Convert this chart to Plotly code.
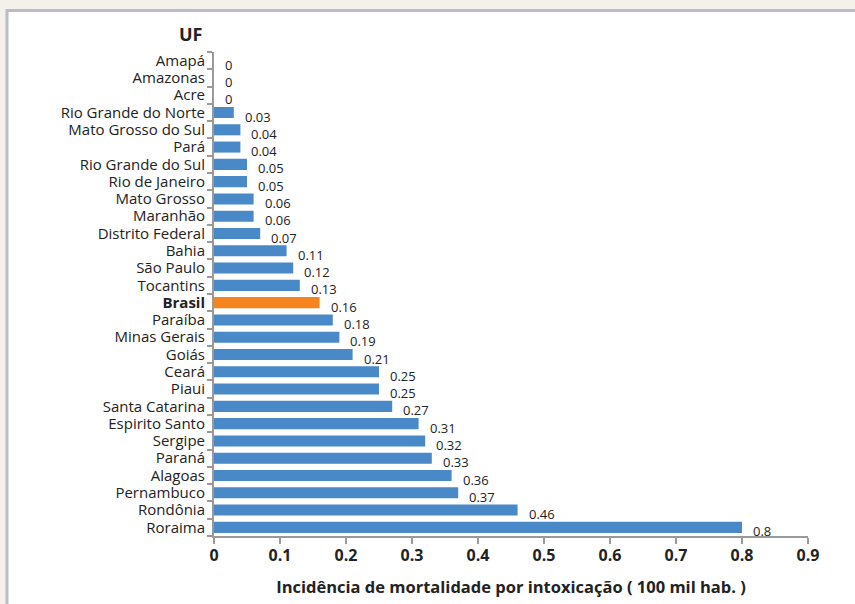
import plotly.graph_objects as go

# Incidence of mortality by poisoning, per state (UF) plus national value
states = [
    "Amapá", "Amazonas", "Acre", "Rio Grande do Norte", "Mato Grosso do Sul",
    "Pará", "Rio Grande do Sul", "Rio de Janeiro", "Mato Grosso", "Maranhão",
    "Distrito Federal", "Bahia", "São Paulo", "Tocantins", "Brasil", "Paraíba",
    "Minas Gerais", "Goiás", "Ceará", "Piaui", "Santa Catarina", "Espirito Santo",
    "Sergipe", "Paraná", "Alagoas", "Pernambuco", "Rondônia", "Roraima",
]
incidence = [
    0, 0, 0, 0.03, 0.04,
    0.04, 0.05, 0.05, 0.06, 0.06,
    0.07, 0.11, 0.12, 0.13, 0.16, 0.18,
    0.19, 0.21, 0.25, 0.25, 0.27, 0.31,
    0.32, 0.33, 0.36, 0.37, 0.46, 0.8,
]
x_ticks = [0, 0.1, 0.2, 0.3, 0.4, 0.5, 0.6, 0.7, 0.8, 0.9]
x_tick_text = ["0", "0.1", "0.2", "0.3", "0.4", "0.5", "0.6", "0.7", "0.8", "0.9"]

BLUE = "#4a89c7"
ORANGE = "#f5841f"
AXIS = "#9a9a9a"
FONT = "Open Sans"

colors = [ORANGE if s == "Brasil" else BLUE for s in states]
tick_labels = ["<b>Brasil</b>" if s == "Brasil" else s for s in states]

fig = go.Figure(
    go.Bar(
        x=incidence,
        y=states,
        orientation="h",
        marker=dict(color=colors, line=dict(width=0)),
        hoverinfo="skip",
    )
)

# value labels to the right of each bar
for s, v in zip(states, incidence):
    fig.add_annotation(
        x=v, y=s, text=f"{v:g}", showarrow=False,
        xanchor="left", yanchor="middle", xshift=9, yshift=-4,
        font=dict(family=FONT, size=13, color="#222"),
    )

# "UF" heading over the category labels
fig.add_annotation(
    x=0, y=1.037, xref="paper", yref="paper", text="<b>UF</b>",
    showarrow=False, xanchor="center", yanchor="middle", xshift=-24,
    font=dict(family=FONT, size=18, color="#222"),
)

# white framed panel over the beige page
fig.add_shape(
    type="rect", xref="paper", yref="paper",
    x0=-0.3485, x1=1.12, y0=-0.2, y1=1.0855,
    fillcolor="white", line=dict(color="#bcbcc4", width=3), layer="below",
)

fig.update_layout(
    width=855, height=604,
    margin=dict(l=214, r=47, t=52, b=68, autoexpand=False),
    paper_bgcolor="#f4f1ea",
    plot_bgcolor="rgba(0,0,0,0)",
    bargap=0.36,
    showlegend=False,
    font=dict(family=FONT, color="#222"),
    xaxis=dict(
        range=[0, 0.9], tickvals=x_ticks, ticktext=x_tick_text,
        automargin=False,
        showgrid=False, zeroline=False,
        showline=True, linecolor=AXIS, linewidth=2,
        ticks="outside", ticklen=6, tickcolor=AXIS, tickwidth=2,
        ticklabelstandoff=-2,
        tickfont=dict(family=FONT, size=16, color="#222", weight="bold"),
        title=dict(
            text="<b>Incidência de mortalidade por intoxicação ( 100 mil hab. )</b>",
            font=dict(family=FONT, size=16.5, color="#222"), standoff=16,
        ),
    ),
    yaxis=dict(
        type="category", categoryorder="array", categoryarray=states,
        tickvals=states, ticktext=tick_labels,
        autorange=False, range=[27.5, -0.5],
        automargin=False,
        showgrid=False, zeroline=False,
        showline=True, linecolor=AXIS, linewidth=2,
        ticks="outside", ticklen=5, tickcolor=AXIS, tickwidth=2,
        tickson="boundaries", ticklabelstandoff=4,
        tickfont=dict(family=FONT, size=15, color="#222"),
    ),
)

fig.write_html("out.html")
